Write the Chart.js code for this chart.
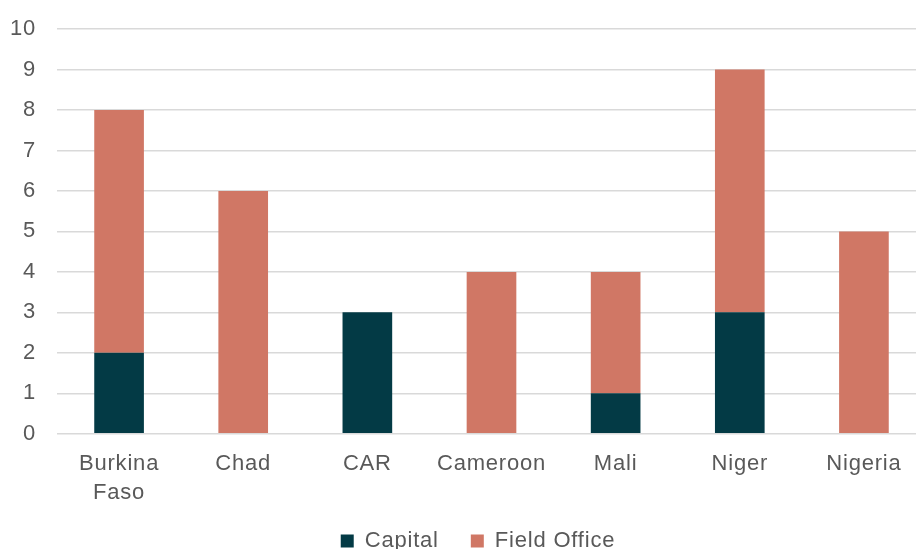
<!DOCTYPE html>
<html>
<head>
<meta charset="utf-8">
<script src="https://cdn.jsdelivr.net/npm/chart.js@4"></script>
<style>
html,body{margin:0;padding:0;background:#fff;overflow:hidden;}
#wrap{position:relative;width:926px;height:579px;}
</style>
</head>
<body>
<div id="wrap"><canvas id="c"></canvas></div>
<script>
const categories = [["Burkina","Faso"], "Chad", "CAR", "Cameroon", "Mali", "Niger", "Nigeria"];
const capital = [2, 0, 3, 0, 1, 3, 0];
const fieldOffice = [6, 6, 0, 4, 3, 6, 5];
const yTicks = [0,1,2,3,4,5,6,7,8,9,10];

const FONT = "'Liberation Sans', Arial, sans-serif";
Chart.defaults.font.family = FONT;
Chart.defaults.color = '#595959';

const spacing = {
  id: 'spacing',
  beforeInit(chart) { chart.ctx.letterSpacing = '0.8px'; },
  beforeUpdate(chart) { chart.ctx.letterSpacing = '0.8px'; },
  beforeDraw(chart) { chart.ctx.letterSpacing = '0.8px'; },
  afterLayout(chart) {
    const lg = chart.legend;
    if (lg) { lg.left += 15; lg.right += 15; lg.top -= 17; lg.bottom -= 17; }
  }
};

new Chart(document.getElementById('c'), {
  type: 'bar',
  plugins: [spacing],
  data: {
    labels: categories,
    datasets: [
      { label: 'Capital', data: capital, backgroundColor: '#033A45', barPercentage: 0.4, categoryPercentage: 1 },
      { label: 'Field Office', data: fieldOffice, backgroundColor: '#D07765', barPercentage: 0.4, categoryPercentage: 1 }
    ]
  },
  options: {
    responsive: true,
    maintainAspectRatio: false,
    animation: false,
    layout: { padding: { left: 0, right: 0, top: 29, bottom: 0 } },
    plugins: {
      tooltip: { enabled: false },
      legend: {
        position: 'bottom',
        labels: { boxWidth: 13, boxHeight: 13, padding: 32, font: { size: 22 }, color: '#595959' }
      }
    },
    scales: {
      x: {
        stacked: true,
        grid: { display: false },
        border: { display: false },
        ticks: { font: { size: 22, lineHeight: 1.3 }, color: '#595959', padding: 8, maxRotation: 0 }
      },
      y: {
        stacked: true,
        min: 0, max: 10,
        afterBuildTicks: (s) => { s.ticks = yTicks.map(v => ({ value: v })); },
        afterFit: (s) => { s.width = 57; },
        grid: { color: '#D9D9D9', lineWidth: 1.5, drawTicks: true, tickLength: 13, tickColor: 'rgba(0,0,0,0)' },
        border: { display: false },
        ticks: { font: { size: 22 }, color: '#595959', padding: 8 }
      }
    }
  }
});
</script>
</body>
</html>
